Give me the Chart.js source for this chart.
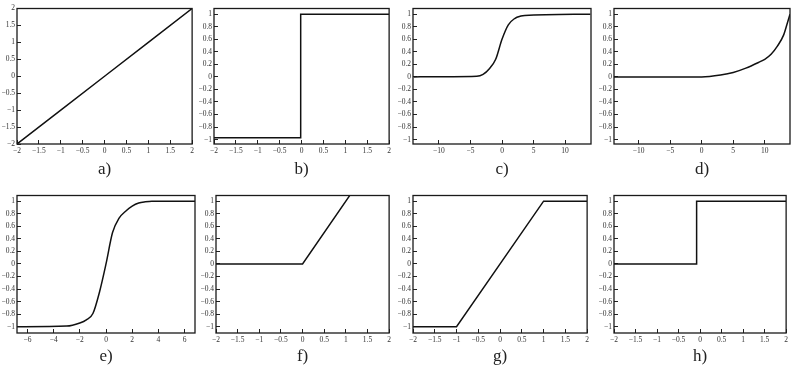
<!DOCTYPE html>
<html>
<head>
<meta charset="utf-8">
<script src="https://cdn.jsdelivr.net/npm/chart.js@4.4.0/dist/chart.umd.min.js"></script>
<style>
  html, body { margin: 0; padding: 0; background: #fff; overflow: hidden; }
  body { width: 793px; height: 366px; position: relative; }
  canvas { position: absolute; }
</style>
</head>
<body>
<script>
const aX = [-2, -1, 0, 1, 2];
const aY = [-2, -1, 0, 1, 2];
const bX = [-2, -0.02, -0.02, 2];
const bY = [-0.97, -0.97, 1.0, 1.0];
const cX = [-14, -4, -3, -2, -1, 0, 1, 2, 3, 3.6, 14];
const cY = [0, 0.01, 0.04, 0.13, 0.28, 0.6, 0.83, 0.93, 0.97, 0.98, 1.0];
const dX = [-14, 0, 3, 5, 7, 9, 10, 11, 12, 13, 13.5, 14];
const dY = [0, 0, 0.03, 0.07, 0.14, 0.23, 0.28, 0.36, 0.49, 0.67, 0.83, 1.0];
const eX = [-6.8, -3, -2, -1.5, -1, -0.5, 0, 0.5, 1, 1.5, 2, 2.5, 3, 3.5, 6.8];
const eY = [-1, -0.99, -0.94, -0.89, -0.79, -0.45, 0, 0.5, 0.73, 0.84, 0.92, 0.97, 0.99, 1, 1];
const fX = [-2, 0, 1.1];
const fY = [0, 0, 1.1];
const gX = [-2, -1, 1, 2];
const gY = [-1, -1, 1, 1];
const hX = [-2, -0.08, -0.08, 2];
const hY = [0, 0, 1, 1];

// etiquetas de los ejes
const ticksTwo = [-2, -1.5, -1, -0.5, 0, 0.5, 1, 1.5, 2];
const ticksOne = [-1, -0.8, -0.6, -0.4, -0.2, 0, 0.2, 0.4, 0.6, 0.8, 1];
const ticksTen = [-10, -5, 0, 5, 10];
const ticksSix = [-6, -4, -2, 0, 2, 4, 6];
const panelNames = ['a)', 'b)', 'c)', 'd)', 'e)', 'f)', 'g)', 'h)'];

// posicion de cada grafica en la pagina
const panels = [
  { xs: aX, ys: aY, xt: ticksTwo, yt: ticksTwo, xr: [-2, 2], yr: [-2, 2], box: [17, 3, 178, 141], xh: 36 },
  { xs: bX, ys: bY, xt: ticksTwo, yt: ticksOne, xr: [-2, 2], yr: [-1.07, 1.09], box: [214, 3, 178, 141], xh: 36 },
  { xs: cX, ys: cY, xt: ticksTen, yt: ticksOne, xr: [-14.1, 14.1], yr: [-1.07, 1.09], box: [413, 3, 178, 141], xh: 36, smooth: true },
  { xs: dX, ys: dY, xt: ticksTen, yt: ticksOne, xr: [-13.9, 14], yr: [-1.07, 1.09], box: [614, 3, 176, 141], xh: 36, smooth: true },
  { xs: eX, ys: eY, xt: ticksSix, yt: ticksOne, xr: [-6.8, 6.8], yr: [-1.1, 1.09], box: [17, 190, 178, 143], xh: 34, smooth: true },
  { xs: fX, ys: fY, xt: ticksTwo, yt: ticksOne, xr: [-2, 2], yr: [-1.1, 1.09], box: [216, 190, 176, 143], xh: 34 },
  { xs: gX, ys: gY, xt: ticksTwo, yt: ticksOne, xr: [-2, 2], yr: [-1.1, 1.09], box: [413, 190, 177, 143], xh: 34 },
  { xs: hX, ys: hY, xt: ticksTwo, yt: ticksOne, xr: [-2, 2], yr: [-1.1, 1.09], box: [614, 190, 175, 143], xh: 34 }
];

const YW = 20;   // ancho del eje y
const PT = 5;    // margen superior
const PR = 6;    // margen derecho

// dibuja el marco completo alrededor del area
const boxPlugin = {
  id: 'box',
  afterDatasetsDraw(chart) {
    const { ctx, chartArea: a } = chart;
    ctx.save();
    ctx.strokeStyle = '#1a1a1a';
    ctx.lineWidth = 1.3;
    ctx.strokeRect(a.left, a.top, a.right - a.left, a.bottom - a.top);
    ctx.restore();
  }
};

const fmt = v => String(v).replace('-', '\u2212');
const tickFont = { family: "'Liberation Serif', 'Times New Roman', serif", size: 7.5 };

panels.forEach((p, i) => {
  const [left, top, w, h] = p.box;
  const canvas = document.createElement('canvas');
  canvas.width = w + YW + PR;
  canvas.height = PT + h + p.xh;
  canvas.style.left = (left - YW) + 'px';
  canvas.style.top = (top - PT) + 'px';
  document.body.appendChild(canvas);

  new Chart(canvas.getContext('2d'), {
    type: 'line',
    data: {
      datasets: [{
        data: p.xs.map((x, k) => ({ x: x, y: p.ys[k] })),
        borderColor: '#111',
        borderWidth: 1.5,
        pointRadius: 0,
        fill: false,
        cubicInterpolationMode: p.smooth ? 'monotone' : 'default',
        tension: 0
      }]
    },
    options: {
      responsive: false,
      animation: false,
      layout: { padding: { top: PT, right: PR, bottom: 0, left: 0 } },
      plugins: { legend: { display: false }, tooltip: { enabled: false } },
      scales: {
        x: {
          type: 'linear',
          min: p.xr[0],
          max: p.xr[1],
          afterBuildTicks: s => { s.ticks = p.xt.map(v => ({ value: v })); },
          afterFit: s => { s.height = p.xh; },
          border: { display: false },
          grid: { drawOnChartArea: false, tickLength: -4, color: '#222', lineWidth: 1 },
          ticks: { autoSkip: false, maxRotation: 0, padding: 7, color: '#333', font: tickFont, callback: fmt },
          title: {
            display: true,
            text: panelNames[i],
            color: '#222',
            padding: 0,
            font: { family: "'Liberation Serif', 'Times New Roman', serif", size: 17 }
          }
        },
        y: {
          min: p.yr[0],
          max: p.yr[1],
          afterBuildTicks: s => { s.ticks = p.yt.map(v => ({ value: v })); },
          afterFit: s => { s.width = YW; },
          border: { display: false },
          grid: { drawOnChartArea: false, tickLength: -4, color: '#222', lineWidth: 1 },
          ticks: { autoSkip: false, padding: 6, color: '#333', font: tickFont, callback: fmt }
        }
      }
    },
    plugins: [boxPlugin]
  });
});
</script>
</body>
</html>
